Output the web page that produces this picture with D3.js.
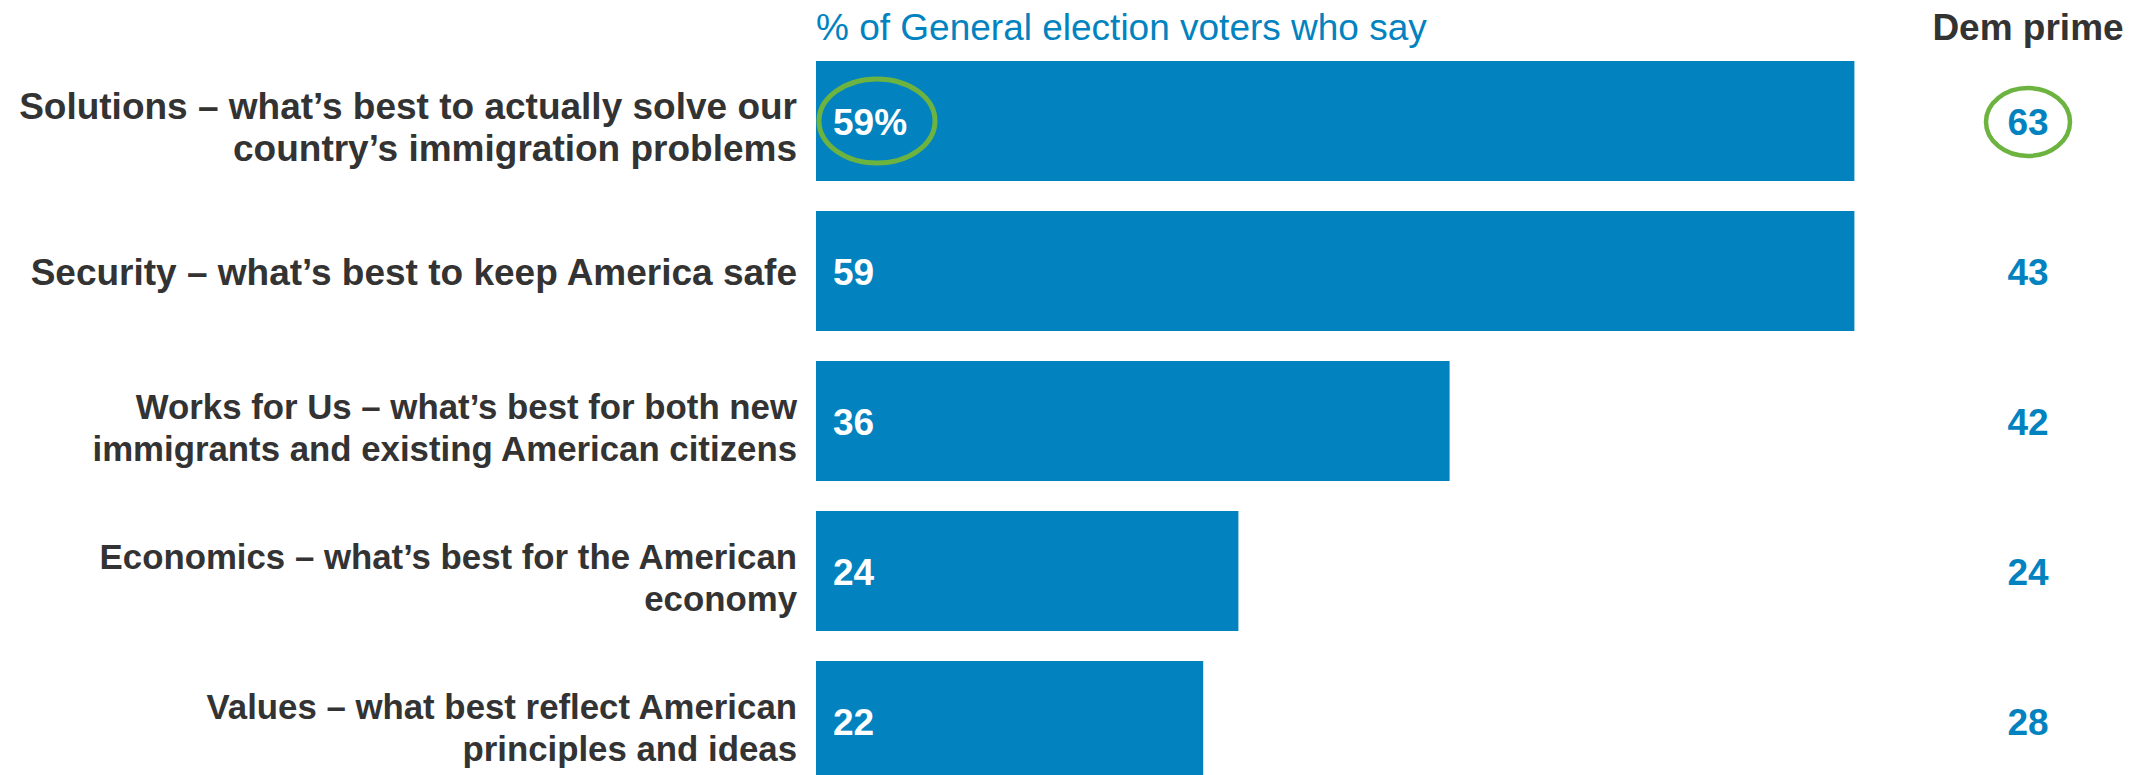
<!DOCTYPE html>
<html lang="en">
<head>
    <meta charset="UTF-8">
    <title>Immigration frames</title>
    <script src="https://d3js.org/d3.v7.min.js"></script>
    <style>
        body {
            margin: 0;
            padding: 0;
            background: #fff;
            font-family: "Liberation Sans", Arial, sans-serif;
        }
    </style>
</head>
<body>
    <script>
        // Datos
        const categories = [
            ["Solutions \u2013 what\u2019s best to actually solve our", "country\u2019s immigration problems"],
            ["Security \u2013 what\u2019s best to keep America safe"],
            ["Works for Us \u2013 what\u2019s best for both new", "immigrants and existing American citizens"],
            ["Economics \u2013 what\u2019s best for the American", "economy"],
            ["Values \u2013 what best reflect American", "principles and ideas"]
        ];
        const generalValues = [59, 59, 36, 24, 22];
        const demPrimeValues = [63, 43, 42, 24, 28];
        const circled = [0];

        const width = 2146;
        const height = 775;
        const blue = "#0283c0";
        const green = "#6cb33f";
        const dark = "#333333";
        const fs = "37px";
        // las tres últimas etiquetas vienen algo más pequeñas en el original
        const labelSize = i => i < 2 ? 37 : 34.8;

        const svg = d3.select("body")
            .append("svg")
            .attr("width", width)
            .attr("height", height);

        // Escalas
        const x = d3.scaleLinear()
            .domain([0, 100])
            .range([816, 2576]);

        const y = d3.scaleBand()
            .domain(d3.range(categories.length))
            .range([61 - 15, 61 - 15 + 150 * categories.length])
            .paddingInner(0.2)
            .paddingOuter(0.1);

        // Encabezados
        svg.append("text")
            .attr("x", x(0))
            .attr("y", 40)
            .attr("font-size", fs)
            .attr("fill", blue)
            .text("% of General election voters who say");

        svg.append("text")
            .attr("x", 2028)
            .attr("y", 40)
            .attr("text-anchor", "middle")
            .attr("font-size", fs)
            .attr("font-weight", "bold")
            .attr("fill", dark)
            .text("Dem prime");

        // Barras
        svg.append("g")
            .selectAll("rect")
            .data(generalValues)
            .enter()
            .append("rect")
            .attr("x", x(0))
            .attr("y", (d, i) => y(i))
            .attr("width", d => x(d) - x(0))
            .attr("height", y.bandwidth())
            .attr("fill", blue);

        // Etiquetas de categorías
        const lineH = 42;
        const labels = svg.append("g")
            .selectAll("text")
            .data(categories)
            .enter()
            .append("text")
            .attr("text-anchor", "end")
            .attr("font-size", (d, i) => labelSize(i) + "px")
            .attr("font-weight", "bold")
            .attr("fill", dark);

        labels.each(function (lines, i) {
            const cy = y(i) + y.bandwidth() / 2;
            const n = lines.length - 1;
            const first = cy + 14 - n * lineH / 2 + n * 5;
            d3.select(this).selectAll("tspan")
                .data(lines)
                .enter()
                .append("tspan")
                .attr("x", 797)
                .attr("y", (l, j) => first + j * lineH)
                .text(l => l);
        });

        // Valores dentro de las barras
        svg.append("g")
            .selectAll("text")
            .data(generalValues)
            .enter()
            .append("text")
            .attr("x", x(0) + 17)
            .attr("y", (d, i) => y(i) + y.bandwidth() / 2 + 14)
            .attr("font-size", fs)
            .attr("font-weight", "bold")
            .attr("fill", "#fff")
            .text((d, i) => i === 0 ? d + "%" : d);

        // Columna Dem prime
        svg.append("g")
            .selectAll("text")
            .data(demPrimeValues)
            .enter()
            .append("text")
            .attr("x", 2028)
            .attr("y", (d, i) => y(i) + y.bandwidth() / 2 + 14)
            .attr("text-anchor", "middle")
            .attr("font-size", fs)
            .attr("font-weight", "bold")
            .attr("fill", blue)
            .text(d => d);

        // Círculos verdes de resaltado
        const rings = svg.append("g");
        circled.forEach(i => {
            const cy = y(i) + y.bandwidth() / 2;
            rings.append("ellipse")
                .attr("cx", x(0) + 61)
                .attr("cy", cy)
                .attr("rx", 58)
                .attr("ry", 42)
                .attr("fill", "none")
                .attr("stroke", green)
                .attr("stroke-width", 5);
            rings.append("ellipse")
                .attr("cx", 2028)
                .attr("cy", cy + 1)
                .attr("rx", 42)
                .attr("ry", 34)
                .attr("fill", "none")
                .attr("stroke", green)
                .attr("stroke-width", 4.5);
        });
    </script>
</body>
</html>
